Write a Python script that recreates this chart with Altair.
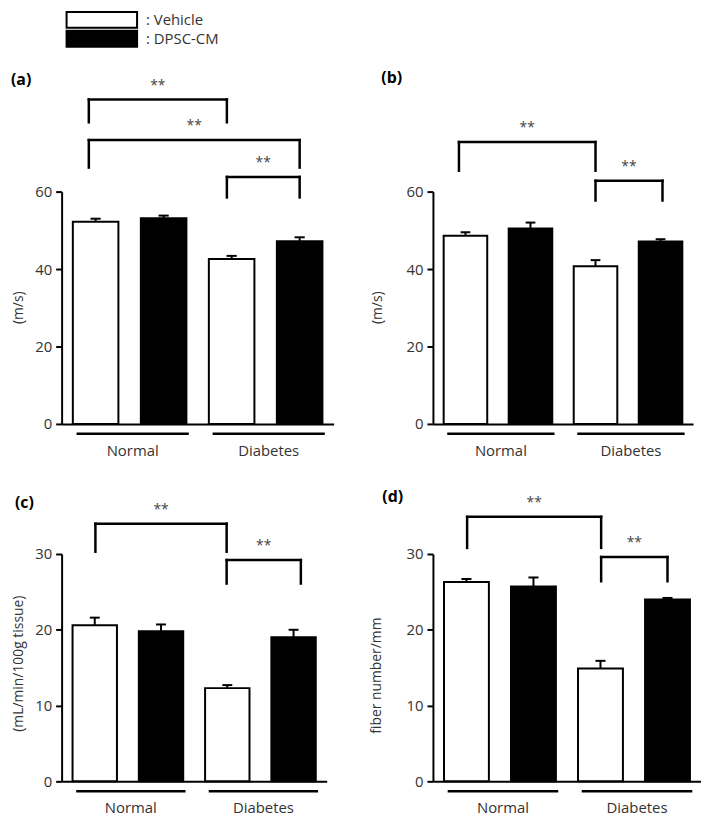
import altair as alt
import pandas as pd

# ---------------- data ----------------
series = ["Vehicle", "DPSC-CM"]
groups = ["Normal", "Diabetes"]
panel_tags = ["(a)", "(b)", "(c)", "(d)"]
y_titles = ["(m/s)", "(m/s)", "(mL/min/100g tissue)", "fiber number/mm"]
y_ticks = [[0, 20, 40, 60], [0, 20, 40, 60], [0, 10, 20, 30], [0, 10, 20, 30]]

# order: Normal-Vehicle, Normal-DPSC-CM, Diabetes-Vehicle, Diabetes-DPSC-CM
means_a = [52.2, 53.1, 42.6, 47.2]
sems_a = [0.8, 0.7, 0.8, 1.0]
means_b = [48.6, 50.5, 40.7, 47.1]
sems_b = [0.9, 1.5, 1.6, 0.6]
means_c = [20.6, 19.8, 12.3, 19.0]
sems_c = [1.0, 0.9, 0.4, 1.0]
means_d = [26.3, 25.7, 14.9, 24.0]
sems_d = [0.4, 1.2, 1.0, 0.2]

# significance brackets: left x, right x (bar-position units), top y, leg-bottom y
brackets_a = [(0.9, 2.93, 83.8, 77.9), (0.9, 4.0, 73.3, 66.2), (2.93, 4.0, 63.8, 58.5)]
brackets_b = [(0.9, 3.0, 72.8, 65.4), (3.0, 4.03, 62.8, 57.7)]
brackets_c = [(1.01, 2.99, 34.0, 30.3), (2.99, 4.11, 29.2, 26.1)]
brackets_d = [(1.01, 3.01, 34.9, 30.8), (3.01, 4.0, 29.6, 26.4)]
sig_label = "**"

FONT = "Open Sans"
TXT = "#333333"
BAR_HALF = 0.335
CAP_HALF = 0.075


def make_panel(i, means, sems, brackets, width, height,
               tag_xy, title_x, title_dy, with_legend=False):
    ymax = y_ticks[i][-1]
    xs = alt.Scale(domain=[0.5, 4.5], nice=False, zero=False)
    ys = alt.Scale(domain=[0, ymax], nice=False, zero=False)
    xaxis = alt.Axis(domain=True, domainColor="black", domainWidth=2,
                     ticks=False, labels=False, grid=False, title=None)
    yaxis = alt.Axis(values=y_ticks[i], domain=True, domainColor="black",
                     domainWidth=2, ticks=True, tickColor="black", tickWidth=2,
                     tickSize=6, labelFontSize=15, labelFont=FONT,
                     labelColor=TXT, labelPadding=4, grid=False, title=None)

    def X(f):
        return alt.X(f, type="quantitative", scale=xs, axis=xaxis)

    def Y(f):
        return alt.Y(f, type="quantitative", scale=ys, axis=yaxis)

    fill_scale = alt.Scale(domain=series, range=["white", "black"])

    df = pd.DataFrame({
        "group": [g for g in groups for _ in series],
        "series": [s for _ in groups for s in series],
        "pos": list(range(1, len(groups) * len(series) + 1)),
        "mean": means,
        "sem": sems,
    })
    base = alt.Chart(df).transform_calculate(
        x0=f"datum.pos - {BAR_HALF}",
        x1=f"datum.pos + {BAR_HALF}",
        top="datum.mean + datum.sem",
        c0=f"datum.pos - {CAP_HALF}",
        c1=f"datum.pos + {CAP_HALF}",
    )
    bars = base.mark_rect(stroke="black", strokeWidth=2).encode(
        x=X("x0"), x2=alt.X2("x1"), y=Y("mean"), y2=alt.datum(0),
        fill=alt.Fill("series:N", scale=fill_scale, legend=None),
    )
    err_v = base.mark_rule(color="black", strokeWidth=2).encode(
        x=X("pos"), y=Y("mean"), y2=alt.Y2("top"))
    err_cap = base.mark_rule(color="black", strokeWidth=2).encode(
        x=X("c0"), x2=alt.X2("c1"), y=Y("top"))

    bdf = pd.DataFrame({
        "xl": [b[0] for b in brackets],
        "xr": [b[1] for b in brackets],
        "ytop": [b[2] for b in brackets],
        "ybot": [b[3] for b in brackets],
        "label": [sig_label] * len(brackets),
    })
    bc = alt.Chart(bdf)
    rs = dict(color="black", strokeWidth=2.5, strokeCap="square")
    b_h = bc.mark_rule(**rs).encode(x=X("xl"), x2=alt.X2("xr"), y=Y("ytop"))
    b_l = bc.mark_rule(**rs).encode(x=X("xl"), y=Y("ybot"), y2=alt.Y2("ytop"))
    b_r = bc.mark_rule(**rs).encode(x=X("xr"), y=Y("ybot"), y2=alt.Y2("ytop"))
    stars = bc.transform_calculate(xm="(datum.xl + datum.xr) / 2").mark_text(
        fontSize=14, color="#444444", dy=-10, baseline="alphabetic", font=FONT
    ).encode(x=X("xm"), y=Y("ytop"), text="label:N")

    gdf = pd.DataFrame({"group": groups, "gi": list(range(len(groups)))})
    gc = alt.Chart(gdf).transform_calculate(
        start="datum.gi * 2 + 1 - 0.28",
        end="datum.gi * 2 + 2 + 0.37",
    ).transform_calculate(mid="(datum.start + datum.end) / 2")
    g_line = gc.mark_rule(color="black", strokeWidth=2.5).encode(
        x=X("start"), x2=alt.X2("end"), y=alt.value(height + 10))
    g_text = gc.mark_text(fontSize=15, color=TXT, baseline="middle",
                          font=FONT).encode(
        x=X("mid"), y=alt.value(height + 27), text="group:N")

    title = alt.Chart(pd.DataFrame({"t": [y_titles[i]]})).mark_text(
        angle=270, fontSize=14, color=TXT, baseline="middle", align="center",
        font=FONT,
    ).encode(x=alt.value(title_x), y=alt.value(height / 2 + title_dy), text="t:N")

    tag = alt.Chart(pd.DataFrame({"t": [panel_tags[i]]})).mark_text(
        fontSize=16, fontWeight="bold", color="black", align="left",
        baseline="middle", font=FONT,
    ).encode(x=alt.value(tag_xy[0]), y=alt.value(tag_xy[1]), text="t:N")

    layers = [bars, err_v, err_cap, b_h, b_l, b_r, stars, g_line, g_text, title, tag]

    if with_legend:
        for k, s in enumerate(series):
            ldf = pd.DataFrame({"series": [s]})
            lc = alt.Chart(ldf).transform_calculate(lab="': ' + datum.series")
            y0 = -181 + k * 19
            layers.append(lc.mark_rect(stroke="black", strokeWidth=2).encode(
                x=alt.value(5), x2=alt.value(76),
                y=alt.value(y0), y2=alt.value(y0 + 16),
                fill=alt.Fill("series:N", scale=fill_scale, legend=None)))
            layers.append(lc.mark_text(fontSize=15, color=TXT, align="left",
                                       baseline="middle", font=FONT).encode(
                x=alt.value(85), y=alt.value(y0 + 8), text="lab:N"))

    return alt.layer(*layers).properties(width=width, height=height)


pa = make_panel(0, means_a, sems_a, brackets_a, 274, 234, (-51, -112), -43, 0, True)
pb = make_panel(1, means_b, sems_b, brackets_b, 262, 234, (-52, -114), -55, 0)
pc = make_panel(2, means_c, sems_c, brackets_c, 267, 229, (-47, -51), -43, -4)
pd_ = make_panel(3, means_d, sems_d, brackets_d, 270, 229, (-51, -57), -56, 8)

chart = alt.concat(
    pa, pb, pc, pd_, columns=2,
    spacing={"row": 131, "column": 100}, bounds="flush",
).properties(
    padding={"left": 3, "top": 0, "right": 0, "bottom": 0}
).configure_view(stroke=None).configure_text(font=FONT)

chart.save("out.html", embed_options={"renderer": "svg", "actions": False})
